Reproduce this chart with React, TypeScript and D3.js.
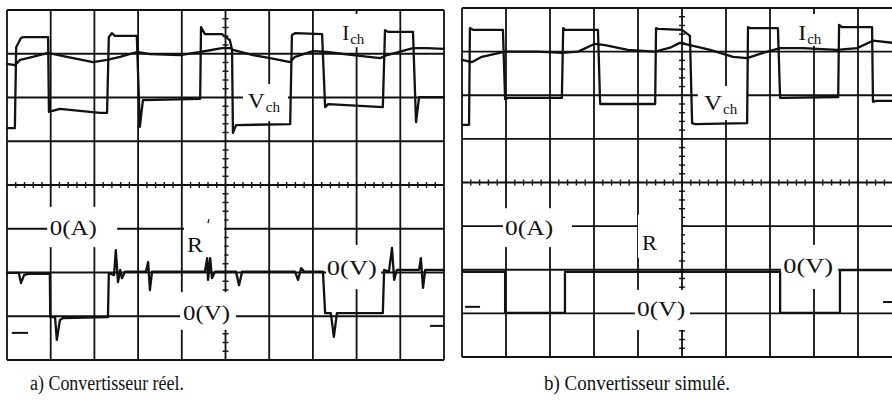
import React from "react";
import * as d3 from "d3";

type Pt = [number, number];

// a) real converter
const realVch: Pt[] = [
  [0, 1.3], [0.18, 1.3], [0.21, 3.15], [0.32, 3.36], [0.37, 3.38], [0.94, 3.38],
  [0.96, 1.67], [1.21, 1.74], [2.13, 1.65], [2.29, 1.65], [2.33, 3.38], [2.4, 3.47],
  [2.47, 3.41], [2.97, 3.41], [3.04, 1.33], [3.11, 1.94], [4.42, 1.97], [4.44, 3.61],
  [4.53, 3.45], [4.92, 3.45], [5.1, 3.31], [5.15, 3.09], [5.17, 1.19], [5.24, 1.37],
  [6.48, 1.39], [6.52, 3.43], [6.59, 3.47], [7.21, 3.45], [7.28, 1.78], [7.35, 1.85],
  [8.6, 1.78], [8.65, 3.54], [8.72, 3.5], [9.29, 3.5], [9.36, 1.44], [9.43, 2.01], [10, 2.01],
];
const realIch: Pt[] = [
  [0, 2.77], [0.18, 2.74], [0.3, 2.86], [0.59, 2.93], [0.94, 3.02], [1.37, 2.93],
  [1.97, 2.81], [2.29, 2.86], [2.59, 2.93], [2.97, 3.04], [3.27, 2.99], [3.96, 2.97],
  [4.42, 3.04], [4.92, 3.13], [5.1, 3.13], [5.17, 3.09], [5.63, 2.97], [6.02, 2.9],
  [6.48, 2.81], [6.59, 2.93], [7.0, 3.06], [7.32, 3.04], [7.92, 2.97], [8.54, 2.9],
  [8.7, 2.97], [9.29, 3.13], [9.61, 3.13], [10, 3.11],
];
const realR: Pt[] = [
  [0, -2.01], [0.27, -2.01], [0.32, -2.24], [0.39, -2.06], [0.48, -2.03], [0.98, -2.03],
  [0.99, -3.02], [1.1, -3.02], [1.14, -3.54], [1.21, -3.09], [1.28, -3.04], [2.31, -3.02],
  [2.33, -2.01], [2.45, -2.06], [2.49, -1.49], [2.54, -2.22], [2.59, -1.94], [2.63, -2.13],
  [2.7, -1.98], [3.18, -1.98], [3.23, -1.76], [3.27, -2.4], [3.32, -1.98], [4.53, -1.98],
  [4.58, -1.67], [4.6, -2.17], [4.65, -1.67], [4.69, -2.13], [4.76, -1.98], [5.24, -1.98],
  [5.31, -2.29], [5.38, -1.98], [6.59, -1.98], [6.66, -2.17], [6.73, -1.9], [6.8, -1.98],
  [7.23, -1.98], [7.28, -2.93], [7.41, -2.93], [7.48, -3.47], [7.55, -2.93], [8.6, -2.93],
  [8.63, -1.94], [8.74, -1.98], [8.81, -1.44], [8.86, -2.17], [8.92, -1.94], [9.43, -1.94],
  [9.47, -1.67], [9.52, -2.35], [9.57, -1.94], [10, -1.94],
];

// b) simulated converter
const simVch: Pt[] = [
  [0, 1.32], [0.16, 1.32], [0.18, 3.54], [0.25, 3.5], [0.93, 3.5], [0.98, 1.91],
  [1.05, 1.94], [2.27, 1.94], [2.3, 3.54], [2.34, 3.5], [3.09, 3.5], [3.14, 1.8],
  [3.18, 1.8], [4.39, 1.8], [4.41, 3.54], [4.45, 3.52], [5.0, 3.5], [5.09, 3.43],
  [5.18, 3.36], [5.23, 1.36], [5.3, 1.34], [6.48, 1.36], [6.5, 3.56], [6.55, 3.54],
  [7.18, 3.54], [7.23, 1.94], [7.3, 1.94], [8.55, 1.96], [8.57, 3.61], [8.64, 3.56],
  [9.32, 3.56], [9.34, 1.85], [9.41, 1.87], [10, 1.87],
];
const simIch: Pt[] = [
  [0, 2.81], [0.23, 2.76], [0.45, 2.88], [0.98, 3.0], [1.73, 3.0], [2.27, 2.97],
  [2.64, 3.0], [3.02, 3.18], [3.25, 3.15], [3.77, 3.04], [4.39, 3.0], [4.73, 3.09],
  [4.95, 3.2], [5.18, 3.15], [5.64, 3.04], [6.16, 2.88], [6.48, 2.85], [6.84, 2.97],
  [7.23, 3.08], [7.75, 3.08], [8.52, 3.04], [8.98, 3.08], [9.34, 3.25], [10, 3.18],
];
const simR: Pt[] = [
  [0, -2.05], [0.98, -2.05], [0.98, -2.99], [2.34, -2.99], [2.34, -2.05], [7.23, -2.05],
  [7.23, -2.99], [8.59, -2.99], [8.59, -2.01], [10, -2.01],
];

const captions = ["a) Convertisseur réel.", "b) Convertisseur simulé."];

// screen layout
const frames = [
  { x0: 7, x1: 444, y0: 10, y1: 360, capX: 30, capW: 154 },
  { x0: 462, x1: 902, y0: 8, y1: 357, capX: 544, capW: 186 },
];

type Label = { text: string; sub?: string; t: number; v: number; w: number; box: number[] };

const realLabels: Label[] = [
  { text: "I", sub: "ch", t: 7.67, v: 3.31, w: 7, box: [7.62, 8.26, 3.91, 3.15] },
  { text: "V", sub: "ch", t: 5.51, v: 1.76, w: 17, box: [5.4, 6.43, 2.31, 1.46] },
  { text: "0(A)", t: 0.98, v: -1.14, w: 47, box: [0.92, 2.52, -0.5, -1.42] },
  { text: "R", t: 4.12, v: -1.53, w: 16, box: [4.05, 4.97, -0.71, -1.67] },
  { text: "0(V)", t: 7.32, v: -2.06, w: 50, box: [7.3, 8.56, -1.37, -2.38] },
  { text: "0(V)", t: 4.03, v: -3.09, w: 47, box: [3.96, 5.24, -2.45, -3.31] },
];
const simLabels: Label[] = [
  { text: "I", sub: "ch", t: 7.64, v: 3.27, w: 8, box: [7.59, 8.27, 3.86, 3.13] },
  { text: "V", sub: "ch", t: 5.5, v: 1.66, w: 18, box: [5.36, 6.5, 2.21, 1.43] },
  { text: "0(A)", t: 0.98, v: -1.2, w: 48, box: [0.93, 2.5, -0.59, -1.48] },
  { text: "R", t: 4.09, v: -1.55, w: 15, box: [4.0, 4.98, -0.74, -1.73] },
  { text: "0(V)", t: 7.3, v: -2.07, w: 50, box: [7.25, 8.55, -1.43, -2.44] },
  { text: "0(V)", t: 3.98, v: -3.05, w: 48, box: [3.93, 5.18, -2.46, -3.38] },
];

// channel ground markers at the screen edges: [t0, t1, v]
const realMarks = [[0.11, 0.48, -3.38], [9.68, 10, -3.22]];
const simMarks = [[0.07, 0.41, -2.85], [9.57, 9.77, -2.74]];

const FONT = "'Liberation Serif', 'DejaVu Serif', serif";
const INK = "#111";

function Screen({ f, traces, labels, marks, caption, prime }: any) {
  const x = d3.scaleLinear().domain([0, 10]).range([f.x0, f.x1]);
  const y = d3.scaleLinear().domain([-4, 4]).range([f.y1, f.y0]);
  const line = d3.line<Pt>().x((d) => x(d[0])).y((d) => y(d[1]));
  const cols = d3.range(0, 11);
  const rows = d3.range(-4, 5);
  const minorT = d3.range(0, 50).map((i) => i * 0.2).filter((t) => t > 0);
  const minorV = d3.range(-20, 21).map((i) => i * 0.2).filter((v) => Math.abs(v) < 3.99 && Math.abs(v) > 0.01);

  return (
    <g>
      {/* graticule */}
      {cols.map((c) => (
        <line key={"c" + c} x1={x(c)} x2={x(c)} y1={y(4)} y2={y(-4)} stroke={INK} strokeWidth={1.8} />
      ))}
      {rows.map((r) => (
        <line key={"r" + r} x1={x(0)} x2={x(10)} y1={y(r)} y2={y(r)} stroke={INK} strokeWidth={1.8} />
      ))}
      {minorT.map((t) => (
        <line key={"mt" + t} x1={x(t)} x2={x(t)} y1={y(0) - 3} y2={y(0) + 3} stroke={INK} strokeWidth={1.4} />
      ))}
      {minorV.map((v) => (
        <line key={"mv" + v} x1={x(5) - 3} x2={x(5) + 3} y1={y(v)} y2={y(v)} stroke={INK} strokeWidth={1.4} />
      ))}

      {/* label backgrounds */}
      {labels.map((l: Label, i: number) => (
        <rect key={"b" + i} x={x(l.box[0])} y={y(l.box[2])} width={x(l.box[1]) - x(l.box[0])}
          height={y(l.box[3]) - y(l.box[2])} fill="#fff" />
      ))}

      {/* traces */}
      {traces.map((tr: Pt[], i: number) => (
        <path key={"t" + i} d={line(tr) || ""} fill="none" stroke={INK} strokeWidth={2.3}
          strokeLinejoin="round" strokeLinecap="round" />
      ))}
      {marks.map((m: number[], i: number) => (
        <line key={"m" + i} x1={x(m[0])} x2={x(m[1])} y1={y(m[2])} y2={y(m[2])} stroke={INK} strokeWidth={2} />
      ))}

      {/* labels */}
      {labels.map((l: Label, i: number) => (
        <g key={"l" + i} fontFamily={FONT} fill={INK}>
          <text x={x(l.t)} y={y(l.v)} fontSize={22} textLength={l.w} lengthAdjust="spacingAndGlyphs">
            {l.text}
          </text>
          {l.sub && (
            <text x={x(l.t) + l.w + 1} y={y(l.v) + 4} fontSize={15}>
              {l.sub}
            </text>
          )}
        </g>
      ))}
      {prime && (
        <line x1={x(prime[0])} y1={y(prime[1])} x2={x(prime[0]) - 1} y2={y(prime[1]) + 4} stroke={INK} strokeWidth={1.2} />
      )}

      <text x={f.capX} y={390} fontFamily={FONT} fontSize={20} fill={INK} textLength={f.capW}
        lengthAdjust="spacingAndGlyphs">
        {caption}
      </text>
    </g>
  );
}

export default function App() {
  return (
    <svg width={892} height={403} style={{ position: "absolute", left: 0, top: 0, background: "#fff" }}>
      <rect width={892} height={403} fill="#fff" />
      <Screen f={frames[0]} traces={[realIch, realVch, realR]} labels={realLabels} marks={realMarks}
        caption={captions[0]} prime={[4.62, -0.78]} />
      <Screen f={frames[1]} traces={[simIch, simVch, simR]} labels={simLabels} marks={simMarks}
        caption={captions[1]} />
    </svg>
  );
}
